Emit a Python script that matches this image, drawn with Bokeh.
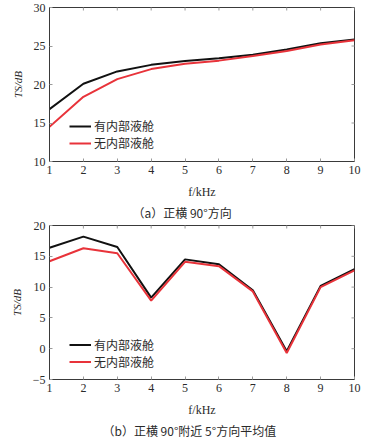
from bokeh.plotting import figure
from bokeh.models import Range1d, FixedTicker, Legend, LegendItem, Title
from bokeh.layouts import column
from bokeh.embed import file_html
from bokeh.resources import INLINE

# ---- data ----
freq = [1, 2, 3, 4, 5, 6, 7, 8, 9, 10]
a_with = [16.8, 20.1, 21.7, 22.55, 23.05, 23.4, 23.85, 24.55, 25.35, 25.85]
a_without = [14.5, 18.4, 20.7, 22.0, 22.7, 23.1, 23.7, 24.35, 25.2, 25.75]
b_with = [16.4, 18.2, 16.5, 8.3, 14.5, 13.7, 9.5, -0.4, 10.2, 12.9]
b_without = [14.2, 16.3, 15.5, 7.8, 14.1, 13.4, 9.3, -0.7, 10.0, 12.7]
x_ticks = [1, 2, 3, 4, 5, 6, 7, 8, 9, 10]
a_yticks = [10, 15, 20, 25, 30]
b_yticks = [-5, 0, 5, 10, 15, 20]
legend_labels = ["有内部液舱", "无内部液舱"]
x_label = "f/kHz"
y_label = "TS/dB"
caption_a = "（a）正横 90°方向"
caption_b = "（b）正横 90°附近 5°方向平均值"

SERIF = "Liberation Serif"
CJK = "Noto Sans CJK SC"
BLACK = "#111111"
RED = "#e8333a"
AX = "#3a3a3a"
TICK = "#9a9a9a"
TXT = "#2a2a2a"

W = 369
LEFT = 49
RIGHT = 15


def make_panel(height, top, bottom, yr, yticks, s1, s2, caption, cap_offset, leg_y, leg_h):
    p = figure(width=W, height=height, output_backend="svg", toolbar_location=None,
               x_range=Range1d(1, 10), y_range=Range1d(*yr),
               min_border_left=LEFT, min_border_right=RIGHT,
               min_border_top=top, min_border_bottom=bottom)
    p.outline_line_color = AX
    p.outline_line_width = 1
    p.xgrid.visible = False
    p.ygrid.visible = False

    r1 = p.line(freq, s1, line_color=BLACK, line_width=2)
    r2 = p.line(freq, s2, line_color=RED, line_width=2)
    leg = Legend(items=[LegendItem(label=legend_labels[0], renderers=[r1]),
                        LegendItem(label=legend_labels[1], renderers=[r2])],
                 location=(20, leg_y), padding=0, margin=0, spacing=0,
                 glyph_width=22, glyph_height=leg_h, label_height=leg_h, label_standoff=3,
                 label_text_font=CJK, label_text_font_size="12px", label_text_color=TXT,
                 border_line_color=None, background_fill_alpha=0)
    p.add_layout(leg, "center")

    for ax, tk in ((p.xaxis[0], x_ticks), (p.yaxis[0], yticks)):
        ax.ticker = FixedTicker(ticks=tk)
        ax.major_tick_in = 3
        ax.major_tick_out = 0
        ax.minor_tick_line_color = None
        ax.axis_line_color = AX
        ax.major_tick_line_color = TICK
        ax.major_label_text_font = SERIF
        ax.major_label_text_font_size = "12px"
        ax.major_label_text_color = TXT
        ax.major_label_standoff = 4
        ax.axis_label_text_font = SERIF
        ax.axis_label_text_color = TXT
    p.yaxis[0].major_label_overrides = {t: ("\u2212" + str(-t) if t < 0 else str(t)) for t in yticks}

    p.xaxis[0].axis_label = x_label
    p.xaxis[0].axis_label_text_font_size = "12px"
    p.xaxis[0].axis_label_text_font_style = "normal"
    p.xaxis[0].axis_label_standoff = 8
    p.yaxis[0].axis_label = y_label
    p.yaxis[0].axis_label_text_font_size = "11px"
    p.yaxis[0].axis_label_text_font_style = "italic"
    p.yaxis[0].axis_label_standoff = 7

    # inward ticks on the top and right edges (half of each dash is clipped by the frame)
    p.scatter(x_ticks, [yr[1]] * len(x_ticks), marker="dash", angle=1.5708, size=6,
              line_color=TICK, line_width=1)
    p.scatter([10] * len(yticks), yticks, marker="dash", size=6,
              line_color=TICK, line_width=1)

    p.add_layout(Title(text=caption, align="left", offset=cap_offset, standoff=0,
                       text_font=CJK, text_font_size="12px", text_font_style="normal",
                       text_color=TXT), "below")
    return p


p1 = make_panel(220, 7, 58, (10, 30), a_yticks, a_with, a_without, caption_a, 83, 10, 16)
p2 = make_panel(218, 5, 59, (-5, 20), b_yticks, b_with, b_without, caption_b, 53, 9, 17)

layout = column(p1, p2, spacing=0)
open("out.html", "w").write(file_html(layout, INLINE))
